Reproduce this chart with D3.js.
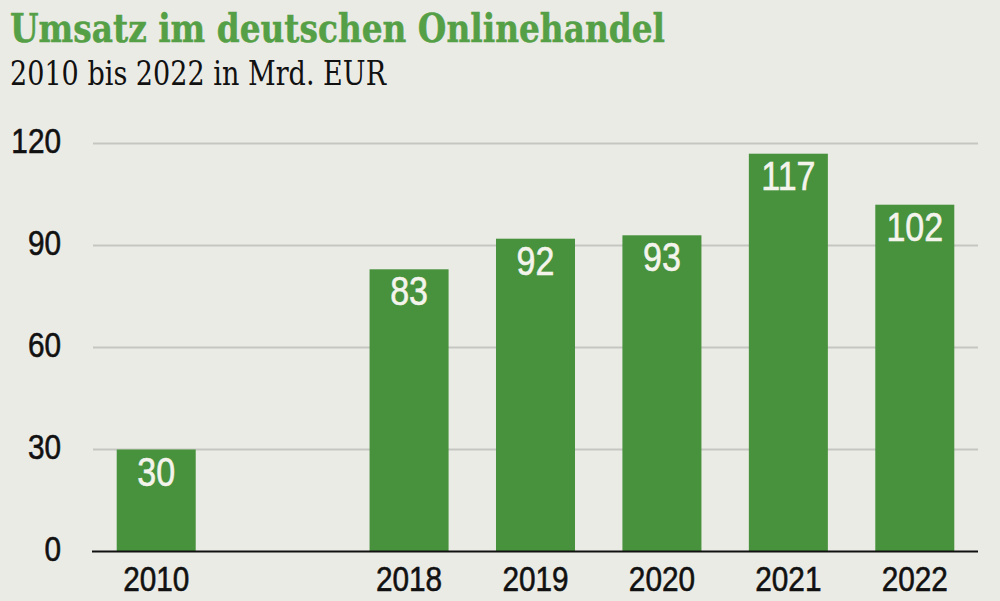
<!DOCTYPE html>
<html><head><meta charset="utf-8">
<script src="https://cdn.jsdelivr.net/npm/d3@7"></script>
<style>
html,body{margin:0;padding:0;background:#ebebe6;}
svg{display:block;}
</style></head>
<body>
<svg id="chart" width="1000" height="601"></svg>
<script>
const categories = ["2010", "2018", "2019", "2020", "2021", "2022"];
const values = [30, 83, 92, 93, 117, 102];
const yTicks = [0, 30, 60, 90, 120];
const title = "Umsatz im deutschen Onlinehandel";
const subtitle = "2010 bis 2022 in Mrd. EUR";

const numFont = "'Liberation Sans',Arial,sans-serif";
const slabFont = "'DejaVu Serif','Liberation Serif',serif";

const svg = d3.select("#chart");
svg.append("rect").attr("width",1000).attr("height",601).attr("fill","#ebebe6");

// slots: gap between 2010 and 2018
const slots = [categories[0], "__gap__", ...categories.slice(1)];
const x = d3.scaleBand().domain(slots).range([93, 978]).paddingInner(0.375).paddingOuter(0.1875);
const y = d3.scaleLinear().domain([0, 120]).range([551.5, 143.5]);

// gridlines
svg.append("g").selectAll("line").data(yTicks.filter(d=>d>0)).join("line")
  .attr("x1", 93).attr("x2", 978)
  .attr("y1", d=>y(d)).attr("y2", d=>y(d))
  .attr("stroke", "#c6c6c1").attr("stroke-width", 2);

// y tick labels
svg.append("g").selectAll("text").data(yTicks).join("text")
  .attr("transform", d=>`translate(61,${y(d)+9}) scale(0.85,1)`)
  .attr("text-anchor","end")
  .attr("font-family", numFont).attr("font-size", 35).attr("fill","#111")
  .attr("stroke","#111").attr("stroke-width",0.6)
  .text(d=>d);

// bars
const data = categories.map((c,i)=>({c, v: values[i]}));
svg.append("g").selectAll("rect").data(data).join("rect")
  .attr("x", d=>x(d.c)).attr("width", x.bandwidth())
  .attr("y", d=>y(d.v)).attr("height", d=>y(0)-y(d.v))
  .attr("fill", "#48923d");

// bar labels
svg.append("g").selectAll("text").data(data).join("text")
  .attr("transform", d=>`translate(${x(d.c)+x.bandwidth()/2},${y(d.v)+36}) scale(0.83,1)`)
  .attr("text-anchor","middle")
  .attr("font-family", numFont).attr("font-size", 41).attr("fill","#f4f4ec")
  .attr("stroke","#f4f4ec").attr("stroke-width",0.6)
  .text(d=>d.v);

// baseline
svg.append("line").attr("x1", 92).attr("x2", 978).attr("y1", y(0)).attr("y2", y(0))
  .attr("stroke","#111").attr("stroke-width",2);

// x labels
svg.append("g").selectAll("text").data(categories).join("text")
  .attr("transform", d=>`translate(${x(d)+x.bandwidth()/2},591) scale(0.85,1)`)
  .attr("text-anchor","middle")
  .attr("font-family", numFont).attr("font-size", 35).attr("fill","#111")
  .attr("stroke","#111").attr("stroke-width",0.6)
  .text(d=>d);

// title & subtitle
svg.append("text").attr("x", 10).attr("y", 42)
  .attr("font-family", slabFont).attr("font-weight","bold").attr("font-size", 40)
  .attr("fill","#55a046").attr("stroke","#55a046").attr("stroke-width",0.5)
  .attr("textLength", 655).attr("lengthAdjust","spacingAndGlyphs")
  .text(title);
svg.append("text").attr("x", 10).attr("y", 85)
  .attr("font-family", slabFont).attr("font-size", 33)
  .attr("fill","#111").attr("textLength", 376).attr("lengthAdjust","spacingAndGlyphs")
  .text(subtitle);
</script>
</body></html>
